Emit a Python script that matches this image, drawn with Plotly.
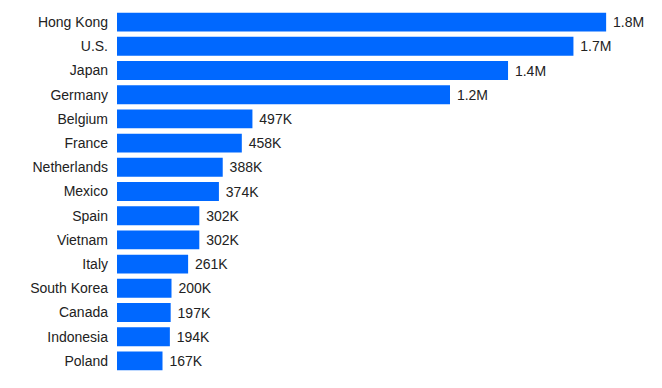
import plotly.graph_objects as go

countries = ["Hong Kong", "U.S.", "Japan", "Germany", "Belgium", "France", "Netherlands",
             "Mexico", "Spain", "Vietnam", "Italy", "South Korea", "Canada", "Indonesia", "Poland"]
values = [1795000, 1675000, 1435000, 1222000, 497000, 458000, 388000,
          374000, 302000, 302000, 261000, 200000, 197000, 194000, 167000]
labels = ["1.8M", "1.7M", "1.4M", "1.2M", "497K", "458K", "388K",
          "374K", "302K", "302K", "261K", "200K", "197K", "194K", "167K"]

# page body has an 8px default margin, so the figure is offset by 8px
W, H = 646, 372
ml, mr, mt, mb = 109, 20, 2, 7
px_per_unit = 0.2725 / 1000
xmax = (W - ml - mr) / px_per_unit

FONT = "Liberation Sans, Arial, sans-serif"
fig = go.Figure(go.Bar(
    y=countries, x=values, orientation="h",
    text=[" " + t for t in labels], textposition="outside",
    textfont=dict(family=FONT, size=14, color="#222"),
    marker=dict(color="#0068ff", line=dict(width=0)),
    cliponaxis=False,
))
fig.update_layout(
    width=W, height=H, margin=dict(l=ml, r=mr, t=mt, b=mb, autoexpand=False),
    paper_bgcolor="white", plot_bgcolor="white",
    bargap=0.22, showlegend=False,
    font=dict(family=FONT, size=14, color="#222"),
)
fig.update_xaxes(range=[0, xmax], visible=False, showgrid=False, zeroline=False)
fig.update_yaxes(autorange="reversed", showgrid=False, zeroline=False, showline=False,
                 ticks="", ticklabelstandoff=8,
                 tickfont=dict(family=FONT, size=14, color="#222"))
fig.write_html("out.html")
